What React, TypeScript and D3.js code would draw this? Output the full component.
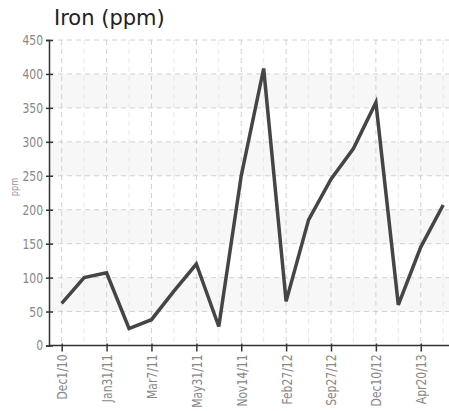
import React, { useRef, useEffect } from "react";
import * as d3 from "d3";

// every other sample carries a label on the axis
const dates = [
  "Dec1/10", "", "Jan31/11", "", "Mar7/11", "", "May31/11", "", "Nov14/11",
  "", "Feb27/12", "", "Sep27/12", "", "Dec10/12", "", "Apr20/13", "",
];
const iron = [62, 100, 107, 25, 38, 80, 120, 28, 250, 408, 65, 185, 245, 290, 358, 60, 145, 207];
const yTicks = [0, 50, 100, 150, 200, 250, 300, 350, 400, 450];

const labelFont = "'DejaVu Sans', sans-serif";
const squeeze = 0.77; // the original tick font is a condensed face

const App = () => {
  const svgRef = useRef<SVGSVGElement>(null);

  useEffect(() => {
    const W = 449;
    const H = 411;
    const left = 49;
    const top = 40;
    const bottom = 345.5;

    const svg = d3.select(svgRef.current).attr("width", W).attr("height", H);
    svg.selectAll("*").remove();

    const idx = dates.map((_, i) => i);
    const x = d3.scalePoint<number>().domain(idx).range([61.7, 443.2]);
    const y = d3.scaleLinear().domain([0, 450]).range([bottom, top]);

    // alternating bands
    svg.append("g")
      .selectAll("rect")
      .data(d3.range(0, 450, 50).filter((v) => (v / 50) % 2 === 1))
      .enter()
      .append("rect")
      .attr("x", left)
      .attr("y", (d) => y(d + 50))
      .attr("width", W - left)
      .attr("height", (d) => y(d) - y(d + 50))
      .attr("fill", "#f7f7f7");

    // vertical grid
    svg.append("g")
      .selectAll("line")
      .data(idx)
      .enter()
      .append("line")
      .attr("x1", (d) => x(d)!)
      .attr("x2", (d) => x(d)!)
      .attr("y1", top)
      .attr("y2", bottom)
      .attr("stroke", (d) => (dates[d] ? "#d2d2d2" : "#e8e8e8"))
      .attr("stroke-dasharray", "5,4");

    // horizontal grid
    svg.append("g")
      .selectAll("line")
      .data(yTicks.slice(1))
      .enter()
      .append("line")
      .attr("x1", left)
      .attr("x2", W)
      .attr("y1", (d) => y(d))
      .attr("y2", (d) => y(d))
      .attr("stroke", "#d2d2d2")
      .attr("stroke-dasharray", "5,4");

    // y axis
    const yAxis = svg.append("g")
      .attr("transform", `translate(${left},0)`)
      .call(d3.axisLeft(y).tickValues(yTicks).tickSize(3).tickPadding(5));
    yAxis.select(".domain").attr("stroke", "#333").attr("stroke-width", 1.5);
    yAxis.selectAll(".tick line").attr("stroke", "#333").attr("stroke-width", 1.5).attr("x2", 4).attr("x1", -3);
    yAxis.selectAll("text")
      .attr("fill", "#888")
      .attr("x", -6 / squeeze)
      .attr("transform", `scale(${squeeze},1)`)
      .style("font-family", labelFont)
      .style("font-size", "14px");

    // x axis
    const labeled = idx.filter((i) => dates[i]);
    const xAxis = svg.append("g")
      .attr("transform", `translate(0,${bottom})`)
      .call(
        d3.axisBottom(x)
          .tickValues(labeled)
          .tickFormat((d) => dates[d as number])
          .tickSize(6)
      );
    xAxis.select(".domain").attr("d", `M${left},0H${W}`).attr("stroke", "#333").attr("stroke-width", 1.5);
    xAxis.selectAll(".tick line").attr("stroke", "#333").attr("stroke-width", 1.5).attr("y1", -2);
    xAxis.selectAll("text")
      .attr("fill", "#888")
      .attr("transform", `rotate(-90) scale(${squeeze},1)`)
      .attr("x", -9 / squeeze)
      .attr("y", 0)
      .attr("dy", "0.35em")
      .attr("text-anchor", "end")
      .style("font-family", labelFont)
      .style("font-size", "14px");

    // series
    svg.append("path")
      .datum(iron)
      .attr("fill", "none")
      .attr("stroke", "#454545")
      .attr("stroke-width", 3.5)
      .attr(
        "d",
        d3.line<number>()
          .x((_, i) => x(i)!)
          .y((d) => y(d))
      );

    svg.append("text")
      .attr("x", 54)
      .attr("y", 25)
      .attr("fill", "#222")
      .style("font-family", "'DejaVu Sans', sans-serif")
      .style("font-size", "21px")
      .text("Iron (ppm)");

    svg.append("text")
      .attr("transform", `translate(18,187) rotate(-90) scale(0.75,1)`)
      .attr("text-anchor", "middle")
      .attr("fill", "#999")
      .style("font-family", labelFont)
      .style("font-size", "11px")
      .text("ppm");
  }, []);

  return (
    <svg ref={svgRef} style={{ position: "absolute", left: 0, top: 0, background: "#fff" }}></svg>
  );
};

export default App;
